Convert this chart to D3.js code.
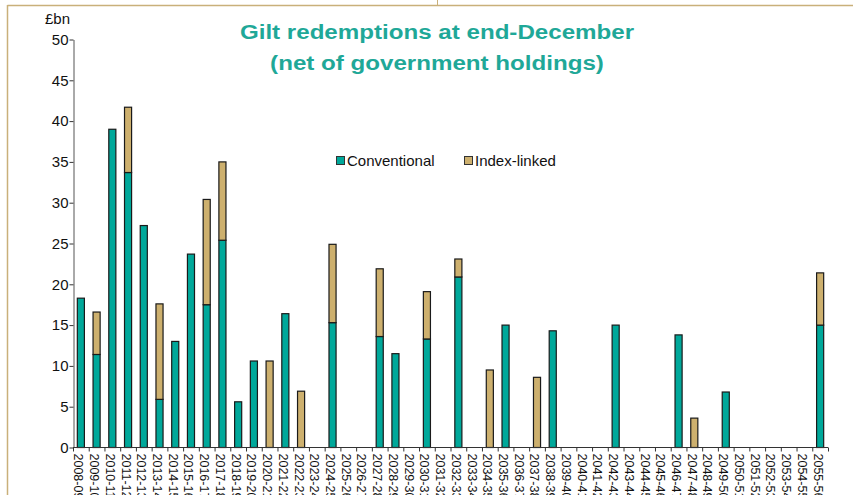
<!DOCTYPE html>
<html>
<head>
<meta charset="utf-8">
<script src="https://cdn.jsdelivr.net/npm/d3@7"></script>
<style>
  html, body { margin: 0; padding: 0; background: #fff; }
  svg { display: block; font-family: Arial, "Liberation Sans", sans-serif; }
</style>
</head>
<body>
<svg id="chart" width="853" height="495"></svg>
<script>
// Financial years, 2008-09 to 2055-56
const years = [
  "2008-09","2009-10","2010-11","2011-12","2012-13","2013-14","2014-15","2015-16",
  "2016-17","2017-18","2018-19","2019-20","2020-21","2021-22","2022-23","2023-24",
  "2024-25","2025-26","2026-27","2027-28","2028-29","2029-30","2030-31","2031-32",
  "2032-33","2033-34","2034-35","2035-36","2036-37","2037-38","2038-39","2039-40",
  "2040-41","2041-42","2042-43","2043-44","2044-45","2045-46","2046-47","2047-48",
  "2048-49","2049-50","2050-51","2051-52","2052-53","2053-54","2054-55","2055-56"
];

// £bn redeemed, conventional gilts
const conventional = [
  18.3, 11.4, 39.0, 33.7, 27.2, 5.9, 13.0, 23.7,
  17.5, 25.4, 5.6, 10.6, 0, 16.4, 0, 0,
  15.3, 0, 0, 13.6, 11.5, 0, 13.3, 0,
  20.9, 0, 0, 15.0, 0, 0, 14.3, 0,
  0, 0, 15.0, 0, 0, 0, 13.8, 0,
  0, 6.8, 0, 0, 0, 0, 0, 15.0
];

// £bn redeemed, index-linked gilts
const indexLinked = [
  0, 5.2, 0, 8.0, 0, 11.7, 0, 0,
  12.9, 9.6, 0, 0, 10.6, 0, 6.9, 0,
  9.6, 0, 0, 8.3, 0, 0, 5.8, 0,
  2.2, 0, 9.5, 0, 0, 8.6, 0, 0,
  0, 0, 0, 0, 0, 0, 0, 3.6,
  0, 0, 0, 0, 0, 0, 0, 6.4
];

const yTicks = [0, 5, 10, 15, 20, 25, 30, 35, 40, 45, 50];
const seriesNames = ["Conventional", "Index-linked"];
const colors = { "Conventional": "#00a89a", "Index-linked": "#cdb06e" };

const svg = d3.select("#chart");
const W = 853, H = 495;

// Frame lines
svg.append("line").attr("x1", 7.5).attr("x2", W).attr("y1", 5.5).attr("y2", 5.5)
  .attr("stroke", "#c9b07a").attr("stroke-width", 1.5);
svg.append("line").attr("x1", 7.5).attr("x2", 7.5).attr("y1", 5).attr("y2", H)
  .attr("stroke", "#c9b07a").attr("stroke-width", 1.5);
svg.append("line").attr("x1", 437.5).attr("x2", 437.5).attr("y1", 0).attr("y2", 5)
  .attr("stroke", "#c9b07a").attr("stroke-width", 1);

const x = d3.scaleBand().domain(years).range([73, 828]).paddingInner(0.55).paddingOuter(0.275);
const y = d3.scaleLinear().domain([0, 50]).range([447.5, 39.5]);

const rows = years.map((yr, i) => ({ year: yr, "Conventional": conventional[i], "Index-linked": indexLinked[i] }));
const stacked = d3.stack().keys(seriesNames)(rows);

// Bars
const g = svg.append("g");
stacked.forEach(layer => {
  g.selectAll(null)
    .data(layer.filter(d => d[1] - d[0] > 0))
    .join("rect")
    .attr("x", d => x(d.data.year))
    .attr("width", x.bandwidth())
    .attr("y", d => y(d[1]))
    .attr("height", d => y(d[0]) - y(d[1]))
    .attr("fill", colors[layer.key])
    .attr("stroke", "#1a1a1a")
    .attr("stroke-width", 1.2);
});

// Y axis
const yAxis = svg.append("g")
  .attr("transform", "translate(73.5,0)")
  .call(d3.axisLeft(y).tickValues(yTicks).tickSize(4).tickSizeOuter(0));
yAxis.select(".domain").attr("stroke", "#555");
yAxis.selectAll(".tick line").attr("stroke", "#333");
yAxis.selectAll(".tick text").attr("font-size", 15).attr("fill", "#111").attr("x", -5);

// X axis: ticks at category boundaries
const xAxisG = svg.append("g").attr("transform", "translate(0,447.5)");
xAxisG.append("line").attr("x1", 73).attr("x2", 828).attr("stroke", "#333");
const step = x.step();
xAxisG.selectAll(".bt")
  .data(d3.range(years.length + 1))
  .join("line")
  .attr("x1", i => 73 + i * step + 0.5)
  .attr("x2", i => 73 + i * step + 0.5)
  .attr("y1", 0).attr("y2", 4)
  .attr("stroke", "#333");
xAxisG.selectAll(".lbl")
  .data(years)
  .join("text")
  .attr("transform", d => `translate(${x(d) + x.bandwidth() / 2 - 2},6) rotate(90)`)
  .attr("font-size", 12.5)
  .attr("fill", "#111")
  .attr("dominant-baseline", "middle")
  .attr("dy", "0.1em")
  .text(d => d);

// Unit label
svg.append("text").attr("x", 45).attr("y", 24).attr("font-size", 15).attr("fill", "#111").text("£bn");

// Title, slightly widened
const title = svg.append("g").attr("transform", "translate(437,0) scale(1.15,1)")
  .append("text").attr("x", 0).attr("text-anchor", "middle")
  .attr("font-size", 21).attr("font-weight", "bold").attr("fill", "#1fa898");
title.append("tspan").attr("x", 0).attr("y", 39).text("Gilt redemptions at end-December");
title.append("tspan").attr("x", 0).attr("y", 70).text("(net of government holdings)");

// Legend
const legend = svg.append("g");
const legendX = [336, 464];
seriesNames.forEach((name, i) => {
  legend.append("rect").attr("x", legendX[i] + 0.5).attr("y", 156.5).attr("width", 8).attr("height", 8)
    .attr("fill", colors[name]).attr("stroke", "#333").attr("stroke-width", 1);
  legend.append("text").attr("x", legendX[i] + 11).attr("y", 166).attr("font-size", 15)
    .attr("fill", "#111").text(name);
});
</script>
</body>
</html>
